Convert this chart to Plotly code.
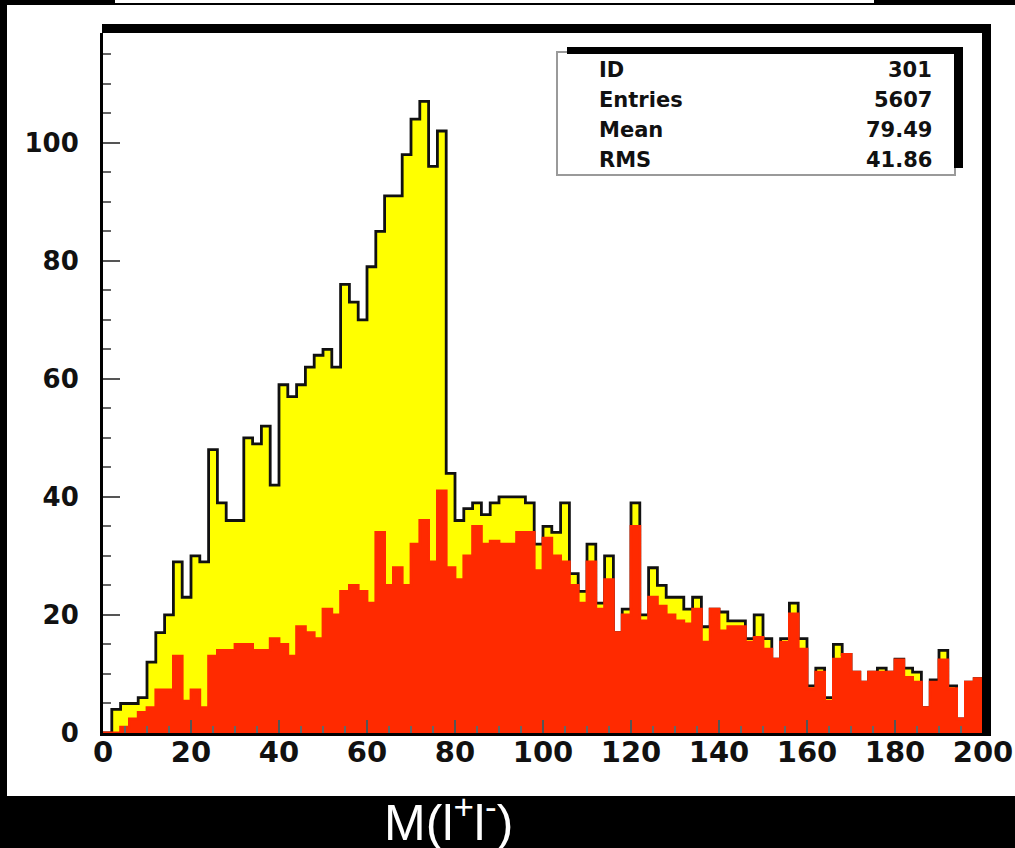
import plotly.graph_objects as go

# ---------------- data ----------------
bin_start = 0
bin_width = 2

total_counts = [
    0, 4, 5, 5, 6, 12, 17, 20, 29, 23,
    30, 29, 48, 39, 36, 36, 50, 49, 52, 42,
    59, 57, 59, 62, 64, 65, 62, 76, 73, 70,
    79, 85, 91, 91, 98, 104, 107, 96, 102, 44,
    36, 38, 39, 37, 39, 40, 40, 40, 39, 32,
    35, 34, 39, 27, 24, 32, 22, 30, 17, 21,
    39, 20, 28, 25, 23, 23, 21, 23, 18, 21,
    20.5, 19, 19, 16, 20, 16, 12.5, 16, 22, 16,
    8, 11, 6, 15, 13.3, 10.3, 8.6, 10.3, 11, 10.3,
    12.5, 11, 10.3, 4.3, 9, 14, 8, 2.4, 8.6, 9.2,
]

subset_counts = [
    0, 0, 1, 2.4, 3.5, 4.3, 7.3, 7.3, 13, 5.4,
    7.3, 4.3, 13, 14, 14, 15, 15, 14, 14, 16,
    15, 13, 18, 17, 16, 21, 20, 24, 25, 24,
    22, 34, 25, 28, 25, 32, 36, 29, 41, 28,
    26, 30, 35, 32, 32.5, 32, 32, 34, 34, 27.5,
    33, 30, 29, 25, 22, 29, 21, 26, 17, 20,
    35, 19, 23, 21.5, 20, 19, 18.5, 21, 15.4, 21,
    17.3, 18, 18, 15.4, 16.2, 14.2, 12.5, 15.4, 20.2, 14.2,
    7.5, 10.3, 5.4, 12.5, 13.3, 10.3, 8.6, 10.3, 10.3, 10.3,
    12.4, 9.4, 8.6, 4.3, 8.6, 12.4, 7.5, 2.4, 8.6, 9.2,
]

x_tick_values = [0, 20, 40, 60, 80, 100, 120, 140, 160, 180, 200]
y_tick_values = [0, 20, 40, 60, 80, 100]

stats_labels = ["ID", "Entries", "Mean", "RMS"]
stats_values = ["301", "5607", "79.49", "41.86"]

x_title = "M(l<sup>+</sup>l<sup>-</sup>)"

# ---------------- geometry helpers ----------------
W, H = 1015, 848
PL, PR, PT, PB = 103, 983, 33, 733   # plot area in pixels


def px(x):
    return (x - PL) / (PR - PL)


def py(y):
    return (PB - y) / (PB - PT)


def edges(counts):
    xs = [bin_start + bin_width * i for i in range(len(counts) + 1)]
    ys = list(counts) + [counts[-1]]
    return xs, ys


fig = go.Figure()

xe, ye = edges(total_counts)
fig.add_trace(go.Scatter(
    x=xe, y=ye, mode="lines", line=dict(shape="hv", color="#111111", width=2.8),
    fill="tozeroy", fillcolor="#ffff00", hoverinfo="skip", showlegend=False,
))

xr, yr = edges(subset_counts)
fig.add_trace(go.Scatter(
    x=xr, y=yr, mode="lines", line=dict(shape="hv", color="#ff2a00", width=2.8),
    fill="tozeroy", fillcolor="#ff2a00", hoverinfo="skip", showlegend=False,
))

shapes = []
# white canvas
shapes.append(dict(type="rect", xref="paper", yref="paper", layer="below",
                   x0=px(7), x1=px(1016), y0=py(796), y1=py(5),
                   fillcolor="white", line=dict(width=0)))
# white strip at top
shapes.append(dict(type="rect", xref="paper", yref="paper", layer="below",
                   x0=px(115), x1=px(874), y0=py(3), y1=py(0),
                   fillcolor="white", line=dict(width=0)))
# thick frame top / right
shapes.append(dict(type="rect", xref="paper", yref="paper", layer="above",
                   x0=px(102), x1=px(991), y0=py(33), y1=py(24),
                   fillcolor="black", line=dict(width=0)))
shapes.append(dict(type="rect", xref="paper", yref="paper", layer="above",
                   x0=px(982), x1=px(991), y0=py(736), y1=py(24),
                   fillcolor="black", line=dict(width=0)))
# stats box
shapes.append(dict(type="rect", xref="paper", yref="paper", layer="above",
                   x0=px(557), x1=px(955), y0=py(175), y1=py(52),
                   fillcolor="white", line=dict(width=2, color="#9a9a9a")))
shapes.append(dict(type="rect", xref="paper", yref="paper", layer="above",
                   x0=px(567), x1=px(963), y0=py(54), y1=py(47),
                   fillcolor="black", line=dict(width=0)))
shapes.append(dict(type="rect", xref="paper", yref="paper", layer="above",
                   x0=px(954), x1=px(963), y0=py(168), y1=py(47),
                   fillcolor="black", line=dict(width=0)))

annotations = []
stat_font = dict(family="DejaVu Sans", size=21, color="#111111", weight=700)
for i, (lab, val) in enumerate(zip(stats_labels, stats_values)):
    yc = 70 + 30 * i
    annotations.append(dict(xref="paper", yref="paper", x=px(597), y=py(yc),
                            xanchor="left", yanchor="middle", text=lab,
                            showarrow=False, font=stat_font))
    annotations.append(dict(xref="paper", yref="paper", x=px(934), y=py(yc),
                            xanchor="right", yanchor="middle", text=val,
                            showarrow=False, font=stat_font))

annotations.append(dict(xref="paper", yref="paper", x=px(448), y=py(819),
                        xanchor="center", yanchor="middle", text=x_title,
                        showarrow=False,
                        font=dict(family="Liberation Sans", size=50, color="white")))

fig.update_layout(
    width=W, height=H, autosize=False,
    margin=dict(l=PL, r=W - PR, t=PT, b=H - PB, pad=0),
    paper_bgcolor="black", plot_bgcolor="white",
    shapes=shapes, annotations=annotations,
    showlegend=False,
)

fig.update_xaxes(
    range=[0, 200], tickvals=x_tick_values, ticktext=[str(v) for v in x_tick_values],
    automargin=False,
    showgrid=False, zeroline=False, showline=True, linecolor="black", linewidth=3,
    ticks="inside", ticklen=13, tickwidth=2, tickcolor="#555555",
    minor=dict(dtick=5, ticks="inside", ticklen=7, tickwidth=1.5, tickcolor="#666666", showgrid=False),
    tickfont=dict(family="DejaVu Sans", size=29, color="#111111", weight=700),
    ticklabelstandoff=-9,
)
fig.update_yaxes(
    range=[0, 118.6], tickvals=y_tick_values, ticktext=[str(v) for v in y_tick_values],
    automargin=False,
    showgrid=False, zeroline=False, showline=True, linecolor="black", linewidth=3,
    ticks="inside", ticklen=17, tickwidth=2, tickcolor="#555555",
    minor=dict(dtick=5, ticks="inside", ticklen=8, tickwidth=1.5, tickcolor="#666666", showgrid=False),
    tickfont=dict(family="DejaVu Sans", size=26, color="#111111", weight=700),
    ticklabelstandoff=16,
)

fig.write_html("out.html")
